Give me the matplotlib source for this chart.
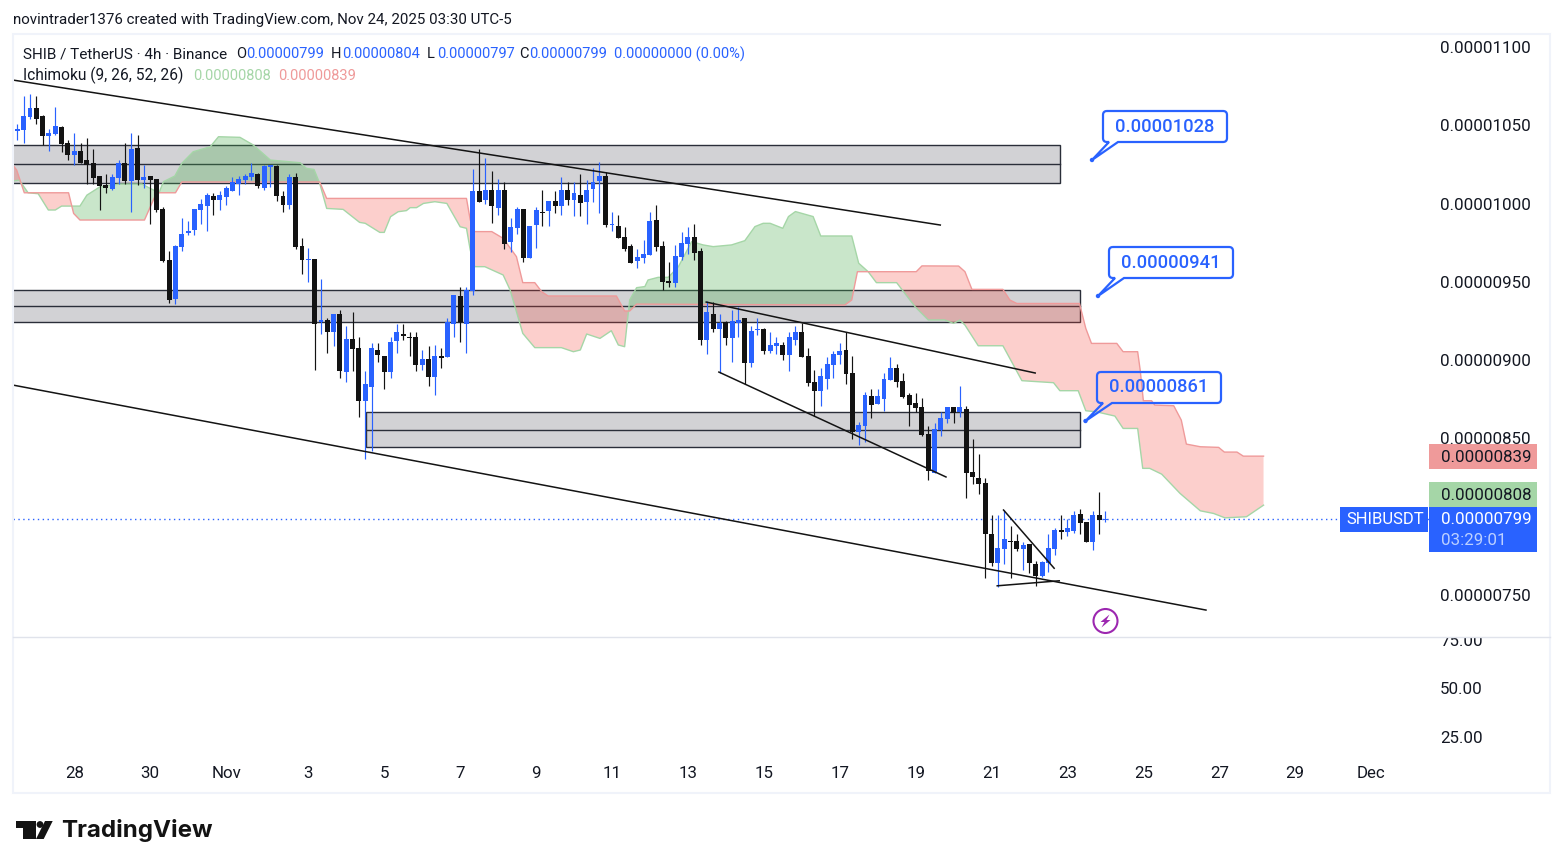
import matplotlib
matplotlib.use('Agg')
import matplotlib.pyplot as plt
import numpy as np
from matplotlib.patches import Rectangle, Circle, Polygon, PathPatch
from matplotlib.path import Path

plt.rcParams['font.family'] = ['Roboto', 'DejaVu Sans']

# Prices are in units of 0.00000001
body_top = [
    1047.0, 1047.6, 1055.9, 1061.0, 1061.0, 1055.9, 1045.1, 1049.5, 1048.9, 1038.7,
    1033.6, 1033.6, 1027.8, 1025.9, 1017.6, 1011.8, 1016.9, 1025.9, 1025.9, 1034.8,
    1035.5, 1016.9, 1017.6, 1015.7, 996.5, 963.9, 972.9, 980.5, 982.5, 996.5,
    999.7, 1005.4, 1004.8, 1005.4, 1009.9, 1013.7, 1015.7, 1017.6, 1019.5, 1018.9,
    1024.0, 1024.6, 1024.0, 1004.8, 1016.9, 1016.9, 972.9, 964.6, 964.6, 925.6,
    925.6, 929.5, 929.5, 913.5, 913.5, 907.7, 884.8, 907.7, 906.5, 902.6,
    911.6, 918.0, 916.7, 914.8, 914.8, 900.7, 900.7, 902.6, 902.6, 924.4,
    941.6, 941.0, 944.8, 1008.0, 1008.0, 1008.7, 1008.7, 1008.7, 1008.7, 985.0,
    996.5, 996.5, 985.7, 995.9, 994.6, 1001.6, 1001.6, 1008.7, 1008.7, 1006.7,
    1005.5, 1008.7, 1013.8, 1017.6, 1017.6, 986.9, 985.7, 978.6, 972.9, 965.9,
    967.8, 988.9, 989.5, 972.9, 950.6, 966.5, 974.9, 978.7, 978.7, 969.7,
    930.8, 929.5, 923.8, 924.4, 925.0, 925.7, 926.9, 918.6, 919.9, 919.9,
    909.7, 911.0, 909.7, 914.8, 918.0, 918.0, 902.7, 886.1, 889.9, 897.6,
    903.9, 905.9, 906.5, 891.8, 858.6, 877.8, 877.1, 877.1, 888.0, 895.0,
    895.0, 886.7, 877.8, 872.7, 870.1, 852.9, 856.0, 863.1, 870.1, 870.1,
    870.1, 868.8, 828.5, 824.7, 821.5, 788.9, 780.0, 785.7, 784.5, 784.5,
    781.9, 782.6, 769.8, 771.0, 780.0, 791.5, 791.5, 792.8, 801.1, 801.7,
    796.6, 801.1, 801.1, 798.5,
]
body_bottom = [
    1039.9, 1046.5, 1047.0, 1055.3, 1054.0, 1043.1, 1043.1, 1044.4, 1038.0, 1031.0,
    1031.0, 1025.9, 1024.8, 1016.3, 1011.2, 1009.9, 1009.3, 1016.3, 1014.4, 1014.4,
    1015.0, 1015.0, 1015.0, 995.9, 963.3, 938.4, 939.0, 972.2, 981.2, 983.1,
    995.9, 998.4, 1002.3, 1002.3, 1004.2, 1008.0, 1012.5, 1015.0, 1016.9, 1011.2,
    1009.9, 1023.3, 1004.8, 999.1, 999.1, 972.2, 964.0, 964.0, 923.1, 924.4,
    918.0, 918.0, 893.1, 892.4, 907.1, 873.9, 873.9, 882.8, 903.3, 892.4,
    892.4, 912.2, 915.4, 914.1, 896.9, 896.9, 889.2, 889.2, 901.4, 902.0,
    923.1, 924.4, 923.1, 944.2, 1001.0, 1002.3, 998.4, 997.2, 974.2, 975.5,
    984.4, 965.2, 965.2, 986.3, 994.0, 995.2, 998.4, 998.4, 1002.3, 1002.3,
    1000.4, 1001.0, 1009.3, 1014.4, 986.3, 986.3, 978.0, 971.0, 962.0, 963.3,
    965.2, 967.1, 972.3, 949.9, 949.3, 949.3, 965.9, 974.2, 968.5, 912.9,
    912.9, 919.9, 919.9, 914.2, 914.2, 923.8, 898.2, 898.2, 919.3, 905.9,
    905.9, 909.1, 903.3, 903.3, 912.9, 902.0, 885.4, 880.3, 880.3, 888.0,
    896.9, 903.3, 891.2, 854.1, 854.1, 858.0, 871.4, 872.0, 875.2, 887.3,
    886.1, 876.5, 871.4, 869.5, 852.2, 829.2, 827.9, 855.4, 862.4, 866.3,
    866.9, 827.9, 825.3, 820.9, 788.9, 770.4, 770.4, 779.4, 783.8, 779.4,
    779.4, 770.4, 762.1, 762.1, 770.4, 779.4, 790.2, 790.2, 790.9, 796.0,
    783.8, 783.8, 797.9, 797.9,
]
highs = [
    1047.0, 1050.8, 1068.7, 1070.0, 1068.7, 1056.5, 1047.6, 1061.7, 1049.5, 1040.6,
    1045.1, 1038.7, 1041.9, 1034.8, 1017.6, 1018.9, 1018.9, 1027.8, 1038.7, 1045.1,
    1043.8, 1024.6, 1017.6, 1015.7, 997.8, 969.7, 973.5, 990.8, 988.8, 996.5,
    1002.9, 1006.7, 1006.7, 1008.0, 1011.2, 1016.9, 1017.6, 1018.9, 1025.9, 1019.5,
    1024.6, 1024.6, 1024.6, 1008.0, 1018.9, 1019.5, 978.0, 971.6, 964.6, 951.8,
    926.9, 929.5, 932.0, 921.8, 930.7, 914.8, 893.1, 911.0, 911.0, 902.6,
    914.8, 923.1, 923.1, 918.0, 918.0, 906.5, 909.0, 909.7, 907.7, 926.9,
    941.6, 946.7, 946.7, 1022.1, 1034.9, 1029.1, 1020.8, 1015.7, 1013.8, 990.8,
    997.8, 996.5, 985.7, 997.8, 1008.7, 1001.6, 1008.0, 1017.0, 1013.8, 1013.8,
    1018.9, 1015.1, 1022.7, 1026.5, 1020.2, 994.6, 992.7, 985.0, 974.2, 971.0,
    976.7, 994.6, 999.1, 976.1, 962.7, 973.6, 981.9, 985.1, 987.0, 971.6,
    937.8, 937.2, 929.5, 925.0, 932.1, 934.0, 926.9, 921.8, 926.9, 920.6,
    918.0, 914.8, 911.6, 918.0, 921.8, 923.8, 907.8, 893.7, 895.0, 902.0,
    905.9, 911.0, 918.0, 902.7, 860.5, 879.7, 881.6, 881.6, 891.8, 902.0,
    897.6, 891.8, 879.1, 879.1, 875.8, 858.0, 859.9, 866.9, 870.1, 870.1,
    883.5, 870.7, 849.6, 840.0, 824.7, 801.1, 801.1, 804.3, 794.0, 788.9,
    783.8, 782.6, 771.7, 771.7, 788.9, 792.8, 801.1, 798.5, 803.6, 804.9,
    796.6, 803.6, 815.8, 803.6,
]
lows = [
    1039.9, 1040.6, 1038.9, 1054.0, 1050.8, 1037.2, 1033.6, 1043.8, 1032.9, 1027.8,
    1024.6, 1025.9, 1012.5, 1012.5, 995.9, 1006.7, 1008.6, 1012.5, 1012.5, 994.6,
    1011.8, 1009.9, 986.9, 994.6, 962.7, 936.5, 935.8, 969.7, 979.9, 979.9,
    986.9, 982.5, 992.7, 995.9, 999.1, 1008.0, 1005.4, 1012.5, 1015.0, 1009.9,
    1008.6, 1010.6, 1001.6, 994.6, 996.5, 971.0, 955.0, 949.9, 893.7, 916.7,
    904.6, 909.0, 888.6, 886.0, 893.1, 863.7, 836.9, 842.0, 898.8, 881.6,
    888.6, 904.6, 912.9, 902.6, 893.1, 893.7, 883.5, 877.7, 895.0, 902.0,
    914.8, 911.6, 904.6, 941.6, 1001.0, 999.7, 987.6, 992.7, 971.0, 969.1,
    980.6, 962.7, 965.2, 971.6, 985.7, 985.7, 994.0, 992.7, 999.1, 992.1,
    992.1, 987.0, 1001.0, 994.0, 985.0, 982.5, 978.0, 969.7, 962.0, 958.8,
    962.0, 967.1, 969.7, 944.8, 946.7, 946.7, 964.0, 967.8, 964.0, 909.7,
    903.9, 918.0, 891.8, 909.7, 898.8, 914.8, 884.8, 895.6, 916.1, 904.0,
    904.6, 904.0, 900.1, 893.1, 909.7, 902.0, 883.5, 864.4, 870.7, 881.6,
    888.6, 897.6, 884.8, 849.7, 845.8, 847.7, 863.1, 872.0, 867.5, 887.3,
    882.9, 875.8, 858.0, 866.9, 851.6, 823.5, 827.9, 851.6, 859.9, 859.9,
    863.7, 811.9, 820.9, 814.5, 760.8, 768.5, 755.1, 769.8, 760.8, 778.1,
    766.0, 764.0, 755.7, 761.5, 764.7, 775.5, 785.7, 787.7, 789.6, 788.9,
    783.8, 778.7, 788.9, 796.6,
]
up_bars = [0, 1, 2, 3, 6, 7, 10, 16, 17, 19, 21, 26, 27, 28, 29, 30, 31, 33, 34, 35, 36, 37, 38,
           40, 41, 44, 47, 49, 51, 53, 56, 57, 60, 61, 65, 67, 69, 70, 72, 73, 75, 77, 79, 80,
           82, 83, 85, 87, 89, 91, 92, 93, 95, 99, 100, 101, 105, 106, 107, 110, 112, 114, 115,
           117, 118, 120, 121, 123, 124, 128, 129, 130, 131, 134, 135, 137, 138, 139, 146, 147,
           148, 150, 156, 157, 160, 163, 164, 165, 167, 168, 171, 173]

# Ichimoku cloud outlines
span_a_bars = [0.3, 1.3, 2.7, 4.3, 5.9, 7.0, 8.0, 10.9, 12.0, 14.1, 17.2, 20.7, 22.0, 23.4, 24.1,
               25.9, 27.0, 28.8, 31.5, 32.8, 36.2, 38.3, 41.0, 45.7, 46.7, 47.9, 48.8, 49.9, 52.5,
               55.1, 56.0, 58.3, 59.0, 60.0, 61.2, 62.5, 63.1, 64.1, 65.2, 67.0, 68.9, 71.0, 72.0,
               72.6, 73.3, 74.9, 77.8, 78.9, 80.9, 82.8, 87.0, 88.9, 90.0, 91.0, 93.1, 94.9, 96.0,
               97.0, 97.8, 98.9, 100.2, 100.7, 102.3, 103.9, 105.5, 107.6, 109.4, 111.0, 113.9,
               116.0, 117.6, 118.9, 120.0, 122.0, 122.9, 124.0, 126.8, 128.0, 132.9, 134.0, 135.5,
               136.8, 140.0, 142.9, 145.0, 147.6, 149.0, 150.0, 150.8, 152.9, 156.8, 159.8, 164.8,
               165.8, 168.7, 169.9, 171.6, 174.5, 175.8, 178.1, 178.9, 180.0, 181.9, 184.8, 188.0,
               190.1, 191.9, 195.3, 198.0]
span_a = [1014.4, 1015.0, 1006.9, 1006.3, 995.9, 995.9, 998.4, 998.4, 1005.4, 1010.8, 1012.5, 1012.5,
          1009.7, 1006.9, 1014.0, 1017.6, 1025.7, 1033.1, 1036.3, 1042.7, 1042.3, 1037.4, 1027.8,
          1026.1, 1022.5, 1021.8, 1012.9, 996.9, 996.3, 988.0, 987.4, 981.6, 981.6, 991.6, 994.8,
          995.5, 997.4, 997.4, 1000.1, 1001.2, 1000.1, 985.2, 984.2, 970.3, 959.7, 959.7, 954.4,
          944.8, 917.1, 908.0, 908.0, 905.4, 906.5, 916.7, 913.9, 918.8, 909.7, 908.6, 938.4,
          946.3, 947.0, 951.2, 952.9, 952.9, 959.7, 975.7, 973.6, 972.5, 973.6, 976.3, 985.3,
          987.4, 987.4, 984.2, 991.7, 994.9, 991.7, 979.3, 979.3, 961.9, 956.5, 949.5, 949.5,
          934.2, 925.7, 925.7, 923.5, 925.6, 922.4, 909.2, 909.2, 886.9, 885.6, 880.5, 880.5,
          867.7, 867.0, 864.3, 856.4, 856.4, 830.9, 830.9, 827.2, 814.9, 803.8, 802.1, 799.3,
          800.0, 807.4]
span_b_bars = [0.3, 0.9, 2.1, 9.1, 9.9, 10.9, 21.1, 23.0, 26.0, 27.0, 48.8, 49.9, 72.0, 72.6, 73.3,
               76.0, 77.8, 79.9, 80.9, 82.8, 83.9, 84.9, 95.7, 97.0, 97.8, 98.9, 131.8, 132.9,
               133.8, 143.1, 144.0, 149.8, 150.8, 151.9, 156.8, 157.9, 159.0, 168.9, 169.9, 170.8,
               174.8, 175.8, 178.1, 178.5, 179.0, 180.3, 180.8, 183.8, 185.0, 185.8, 188.0, 190.9,
               191.8, 193.8, 194.8, 198.0]
span_b = [1024.6, 1021.4, 1006.9, 1006.9, 993.7, 989.5, 989.5, 1006.9, 1006.9, 1013.8, 1013.8, 1003.3,
          1003.3, 989.5, 982.1, 982.1, 977.8, 966.1, 949.5, 949.5, 943.7, 941.0, 941.0, 931.4,
          931.4, 935.8, 935.2, 938.4, 956.5, 956.5, 960.2, 960.1, 956.5, 945.2, 945.2, 938.4,
          936.2, 936.2, 920.3, 910.7, 910.7, 905.4, 905.4, 893.7, 874.1, 874.1, 871.3, 870.9,
          861.7, 846.4, 844.7, 844.3, 841.3, 841.3, 838.7, 838.7]

# Drawing tools: zones (left bar, right bar, top, mid, bottom) and trend lines
zone_left = [-1.0, -1.0, 56.1]
zone_right = [165.8, 169.0, 169.0]
zone_top = [1037.4, 944.8, 866.9]
zone_mid = [1025.0, 934.6, 855.4]
zone_bottom = [1013.1, 924.4, 844.5]

trend_x0 = [0.3, 0.3, 109.9, 111.9, 156.9, 155.9]
trend_y0 = [1078.9, 884.1, 937.1, 892.4, 804.3, 755.9]
trend_x1 = [146.9, 188.9, 161.9, 147.8, 164.9, 165.7]
trend_y1 = [986.3, 740.4, 891.8, 825.4, 767.1, 759.1]

price_ticks = [1100, 1050, 1000, 950, 900, 850, 800, 750]
last_price = 798.3
osc_ticks = [75, 50, 25]
date_bars = [10, 22, 34, 47, 59, 71, 83, 95, 107, 119, 131, 143, 155, 167, 179, 191, 203, 215]
date_labels = ['28', '30', 'Nov', '3', '5', '7', '9', '11', '13', '15', '17', '19', '21', '23', '25', '27', '29', 'Dec']

callout_texts = ['0.00001028', '0.00000941', '0.00000861']

BLUE = '#2962ff'
BLACK = '#131313'
TEXT = '#131722'

W, H = 1563, 868
fig = plt.figure(figsize=(W / 100, H / 100), dpi=100, facecolor='white')


def axes_px(x0, y0, x1, y1):
    return [x0 / W, 1 - y1 / H, (x1 - x0) / W, (y1 - y0) / H]


bar_x0 = 11.0
bar_step = 6.326
ax = fig.add_axes(axes_px(13, 34, 1429, 637))
ax.set_xlim((13 - bar_x0) / bar_step, (1429 - bar_x0) / bar_step)
ax.set_ylim(723.2, 1108.3)
for s in ax.spines.values():
    s.set_visible(False)
ax.yaxis.tick_right()
ax.set_yticks(price_ticks)
ax.set_yticklabels([f'{v * 1e-8:.8f}' for v in price_ticks], fontsize=12.2, color=TEXT)
ax.tick_params(axis='y', length=0, pad=8)
ax.set_xticks([])

# Zones
for l, r, t, m, b in zip(zone_left, zone_right, zone_top, zone_mid, zone_bottom):
    ax.add_patch(Rectangle((l, b), r - l, t - b, facecolor='#d2d2d5', edgecolor='#2a2e39', lw=1.0, zorder=1))
    ax.plot([l, r], [m, m], color='#2a2e39', lw=1.0, zorder=1.1)

# Cloud
grid = np.arange(0.3, 198.01, 0.1)
a_vals = np.interp(grid, span_a_bars, span_a)
b_vals = np.interp(grid, span_b_bars, span_b)
ax.fill_between(grid, a_vals, b_vals, where=a_vals >= b_vals, color='#4caf50', alpha=0.3, lw=0, zorder=2, interpolate=True)
ax.fill_between(grid, a_vals, b_vals, where=a_vals <= b_vals, color='#f44336', alpha=0.25, lw=0, zorder=2, interpolate=True)
ax.plot(span_a_bars, span_a, color='#a5d6a7', lw=1.0, zorder=2.1)
ax.plot(span_b_bars, span_b, color='#ef9a9a', lw=1.0, zorder=2.1)

# Candles
x = np.arange(len(body_top))
colors = [BLUE if i in up_bars else BLACK for i in x]
ax.vlines(x, lows, highs, colors=colors, lw=0.85, zorder=3)
heights = np.maximum(np.array(body_top) - np.array(body_bottom), 0.6)
ax.bar(x, heights, bottom=body_bottom, width=0.78, color=colors, lw=0, zorder=3.1)

# Trend lines
for x0, y0, x1, y1 in zip(trend_x0, trend_y0, trend_x1, trend_y1):
    ax.plot([x0, x1], [y0, y1], color=BLACK, lw=1.1, zorder=4)

ax.axhline(last_price, color=BLUE, ls=(0, (1, 2.5)), lw=1.0, zorder=2.5)

# Lower pane, only its scale and the dates are visible
ax2 = fig.add_axes(axes_px(13, 637, 1429, 757))
ax2.set_xlim(ax.get_xlim())
ax2.set_ylim(14.7, 76.5)
for s in ax2.spines.values():
    s.set_visible(False)
ax2.yaxis.tick_right()
ax2.set_yticks(osc_ticks)
ax2.set_yticklabels([f'{v:.2f}' for v in osc_ticks], fontsize=12.2, color=TEXT)
ax2.set_xticks(date_bars)
ax2.set_xticklabels(date_labels, fontsize=12.2, color=TEXT)
ax2.tick_params(axis='both', length=0)
ax2.tick_params(axis='y', pad=8)
ax2.tick_params(axis='x', pad=6.5)

# Everything else sits in an overlay in image pixels
ov = fig.add_axes([0, 0, 1, 1], facecolor='none', zorder=5)
ov.set_xlim(0, W)
ov.set_ylim(H, 0)
ov.axis('off')

ov.add_patch(Rectangle((1430, 628), 119, 9, facecolor='white', lw=0))
ov.add_patch(Rectangle((13, 34), 1537, 759, facecolor='none', edgecolor='#f0f3fa', lw=1.5))
ov.plot([13, 1550], [637, 637], color='#e0e3eb', lw=1.0)


def txt(px, py, s, color=TEXT, size=10.5, **kw):
    return ov.text(px, py, s, color=color, fontsize=size, va='center', ha=kw.pop('ha', 'left'), **kw)


# Header and legend
txt(13, 20, 'novintrader1376 created with TradingView.com, Nov 24, 2025 03:30 UTC-5', size=10.9)
txt(23, 54.5, 'SHIB / TetherUS · 4h · Binance', size=11)
for px, s in zip([236, 331, 427, 519], 'OHLC'):
    txt(px, 54.5, s)
for px, s in zip([246, 342, 437, 529, 614],
                 ['0.00000799', '0.00000804', '0.00000797', '0.00000799', '0.00000000 (0.00%)']):
    txt(px, 54.5, s, color=BLUE)
txt(23, 75.5, 'Ichimoku (9, 26, 52, 26)', size=11.2)
txt(193, 75.5, '0.00000808', color='#a5d6a7')
txt(278, 75.5, '0.00000839', color='#ef9a9a')


def callout(x0, y0, x1, y1, tip, s):
    r = 4
    verts = [(x0 + r, y0), (x1 - r, y0), (x1, y0), (x1, y0 + r), (x1, y1 - r), (x1, y1), (x1 - r, y1),
             (x0 + 15, y1), tip, (x0 + 6, y1), (x0 + r, y1), (x0, y1), (x0, y1 - r), (x0, y0 + r), (x0, y0),
             (x0 + r, y0)]
    codes = [Path.MOVETO, Path.LINETO, Path.CURVE3, Path.CURVE3, Path.LINETO, Path.CURVE3, Path.CURVE3,
             Path.LINETO, Path.LINETO, Path.LINETO, Path.LINETO, Path.CURVE3, Path.CURVE3, Path.LINETO,
             Path.CURVE3, Path.CURVE3]
    ov.add_patch(PathPatch(Path(verts, codes), facecolor='none', edgecolor=BLUE, lw=1.6))
    ov.add_patch(Circle(tip, 2.2, facecolor=BLUE, lw=0))
    txt((x0 + x1) / 2, (y0 + y1) / 2, s, color=BLUE, size=13.2, ha='center', fontweight='medium')


callout(1103, 111, 1227, 142, (1092, 160), callout_texts[0])
callout(1109, 247, 1233, 278, (1098, 296), callout_texts[1])
callout(1097, 372, 1221, 403, (1085.5, 421), callout_texts[2])

# Price tags on the scale
ov.add_patch(Rectangle((1429, 444), 108, 25, facecolor='#ef9a9a', lw=0))
ov.add_patch(Rectangle((1429, 482), 108, 25, facecolor='#a5d6a7', lw=0))
ov.add_patch(Rectangle((1429, 507), 108, 45, facecolor=BLUE, lw=0))
ov.add_patch(Rectangle((1340, 507), 88, 25, facecolor=BLUE, lw=0))
txt(1440.5, 457, '0.00000839', size=12.2)
txt(1440.5, 495, '0.00000808', size=12.2)
txt(1440.5, 520, '0.00000799', color='white', size=12.2)
txt(1440.5, 540.5, '03:29:01', color='#bcd0ff', size=12.2)
txt(1346, 520, 'SHIBUSDT', color='white', size=12)

# Lightning mark
ov.add_patch(Circle((1105.5, 621), 12, facecolor='white', edgecolor='#9c27b0', lw=1.5))
ov.add_patch(Polygon([(1109.5, 614.5), (1100.5, 622), (1104.5, 622), (1101.5, 627.5), (1110.5, 620), (1106.5, 620)],
                     closed=True, facecolor='#9c27b0', lw=0))

# Logo
ov.add_patch(Polygon([(15.7, 821), (36, 821), (36, 839), (23, 839), (23, 828), (15.7, 828)], closed=True,
                     facecolor=BLACK, lw=0))
ov.add_patch(Circle((40, 824.5), 3.4, facecolor=BLACK, lw=0))
ov.add_patch(Polygon([(45, 821), (52.7, 821), (43.7, 839), (36, 839)], closed=True, facecolor=BLACK, lw=0))
ov.text(61.5, 830.5, 'TradingView', fontsize=17.4, fontweight='bold', family=['Inter', 'DejaVu Sans'],
        color=BLACK, va='center', ha='left')

fig.savefig('out.png', dpi=100)
